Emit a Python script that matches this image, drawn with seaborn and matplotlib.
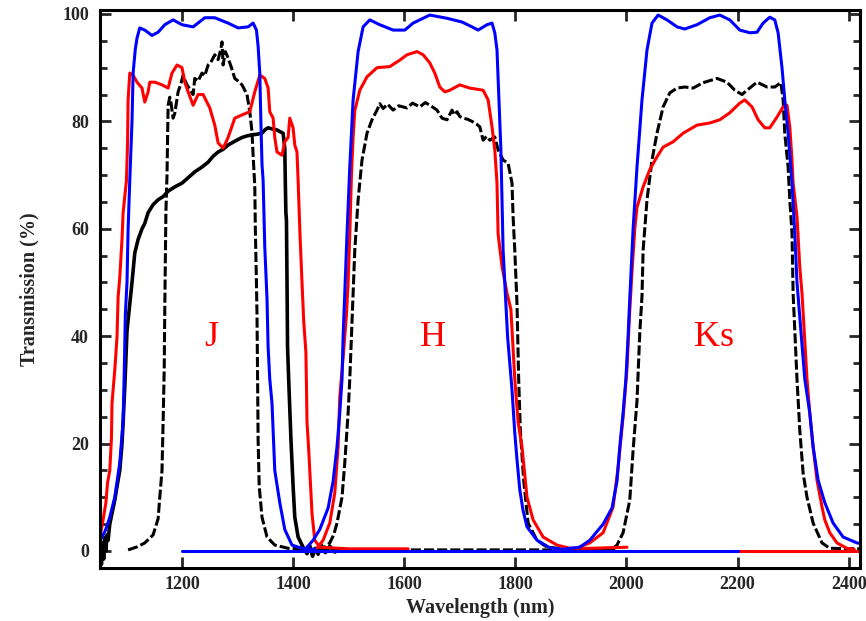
import matplotlib
matplotlib.use("Agg")
import matplotlib.pyplot as plt
import pandas as pd
import seaborn as sns

# Filter transmission curves: (wavelength [nm], transmission [%])
J_BLUE = [(1053, 2.0), (1062, 3.8), (1070, 6.3), (1079, 10.0), (1088, 16.4), (1094, 24.0),
          (1096, 33.0), (1098, 44.0), (1101, 50.0), (1103, 60.0), (1106, 69.0), (1110, 80.0),
          (1112, 89.0), (1116, 93.5), (1119, 95.5), (1124, 97.4), (1133, 97.0), (1146, 96.0),
          (1157, 96.6), (1169, 98.0), (1184, 98.9), (1200, 98.0), (1220, 97.6), (1241, 99.3),
          (1259, 99.3), (1283, 98.3), (1301, 97.4), (1319, 97.6), (1328, 98.3), (1334, 97.0),
          (1337, 94.0), (1340, 89.0), (1342, 80.0), (1344, 72.0), (1346, 69.0), (1349, 56.6),
          (1353, 47.0), (1355, 38.0), (1358, 32.0), (1362, 27.5), (1367, 15.0), (1376, 9.0),
          (1385, 4.0), (1398, 1.1), (1416, 0.5), (1440, 0.3)]

J_RED = [(1053, 3.0), (1058, 5.8), (1063, 9.0), (1066, 12.7), (1070, 15.0), (1073, 21.0),
         (1074, 27.5), (1076, 30.0), (1079, 33.7), (1083, 39.8), (1085, 47.3), (1088, 51.0),
         (1092, 58.0), (1094, 63.0), (1097, 66.0), (1100, 69.0), (1102, 76.0), (1103, 84.0),
         (1106, 89.0), (1112, 88.6), (1119, 87.3), (1128, 86.2), (1133, 83.6), (1139, 85.5),
         (1142, 87.3), (1151, 87.3), (1164, 86.8), (1175, 86.2), (1182, 89.0), (1191, 90.5),
         (1200, 90.0), (1205, 87.3), (1211, 85.5), (1220, 83.0), (1229, 85.0), (1238, 85.0),
         (1250, 82.5), (1259, 79.3), (1265, 76.0), (1274, 75.0), (1283, 77.0), (1295, 80.6),
         (1308, 81.2), (1322, 81.8), (1331, 85.5), (1340, 88.6), (1349, 88.0), (1355, 86.2),
         (1358, 81.8), (1364, 80.6), (1367, 77.0), (1371, 74.3), (1380, 73.7), (1385, 76.2),
         (1391, 77.0), (1394, 80.6), (1400, 78.8), (1403, 75.6), (1407, 74.3), (1409, 69.0),
         (1412, 60.0), (1416, 50.0), (1419, 43.0), (1423, 37.0), (1424, 31.0), (1425, 24.0),
         (1428, 19.0), (1431, 13.0), (1434, 7.0), (1439, 2.0), (1448, 0.7), (1500, 0.4),
         (1607, 0.4)]

J_BLACK_NARROW = [(1103, 0.2), (1120, 0.8), (1133, 1.5), (1148, 3.0), (1157, 6.0), (1160, 10.0),
                  (1164, 15.0), (1166, 24.0), (1168, 34.0), (1169, 45.0), (1170, 54.0),
                  (1171, 63.0), (1173, 70.0), (1175, 83.0), (1178, 84.5), (1180, 83.6),
                  (1184, 80.6), (1187, 81.5), (1193, 85.5), (1198, 87.0), (1202, 88.6),
                  (1206, 87.5), (1209, 86.8), (1214, 86.0), (1220, 85.0), (1223, 88.0),
                  (1229, 87.5), (1236, 89.0), (1241, 88.5), (1247, 90.5), (1252, 91.0),
                  (1259, 92.4), (1265, 91.5), (1270, 93.5), (1272, 94.8), (1274, 90.5),
                  (1278, 93.0), (1283, 91.8), (1289, 90.0), (1295, 88.0), (1301, 87.5),
                  (1308, 86.8), (1317, 85.0), (1322, 81.8), (1326, 78.0), (1328, 73.7),
                  (1331, 68.0), (1332, 60.0), (1334, 50.0), (1335, 44.0), (1336, 33.0),
                  (1337, 20.7), (1339, 12.0), (1344, 6.3), (1353, 2.6), (1367, 1.1),
                  (1391, 0.5), (1450, 0.2), (1980, 0.2)]

J_BLACK_BROAD = [(1053, 0.0), (1055, -2.5), (1057, 1.5), (1059, -1.5), (1061, 2.5), (1063, 0.0),
                 (1065, 3.0), (1067, 2.0), (1070, 5.0), (1074, 7.0), (1079, 9.5), (1083, 12.0),
                 (1088, 15.0), (1092, 20.0), (1094, 24.0), (1097, 30.5), (1101, 41.0),
                 (1106, 46.0), (1110, 50.0), (1115, 55.5), (1121, 58.0), (1128, 60.0),
                 (1133, 61.0), (1139, 63.0), (1148, 64.5), (1157, 65.4), (1166, 66.0),
                 (1175, 67.0), (1187, 67.8), (1200, 68.5), (1211, 69.5), (1223, 70.6),
                 (1236, 71.5), (1247, 72.4), (1256, 73.5), (1265, 74.3), (1274, 74.8),
                 (1283, 75.6), (1295, 76.3), (1308, 77.0), (1317, 77.3), (1326, 77.5),
                 (1335, 77.6), (1344, 77.8), (1350, 78.5), (1355, 78.8), (1362, 78.6),
                 (1371, 78.4), (1378, 78.0), (1382, 77.8), (1385, 75.0), (1386, 68.5),
                 (1387, 63.0), (1388, 61.6), (1389, 50.5), (1390, 38.0), (1392, 32.0),
                 (1396, 21.0), (1400, 12.0), (1403, 6.3), (1409, 2.6), (1418, 0.7),
                 (1425, -0.5), (1430, 1.0), (1435, -1.0), (1440, 0.5), (1445, -0.6),
                 (1450, 1.2), (1458, -0.3), (1466, 0.9), (1475, -0.2), (1485, 0.3)]

H_BLUE = [(1420, 0.2), (1425, 0.7), (1436, 2.0), (1448, 4.0), (1463, 8.0), (1472, 13.0),
          (1479, 19.4), (1484, 25.7), (1488, 32.0), (1490, 40.0), (1493, 48.0), (1497, 59.0),
          (1502, 71.5), (1508, 84.0), (1517, 93.0), (1526, 97.6), (1538, 98.9), (1556, 98.0),
          (1580, 97.0), (1601, 97.0), (1616, 98.3), (1646, 99.8), (1677, 99.2), (1704, 98.5),
          (1722, 97.6), (1733, 97.0), (1749, 98.0), (1758, 98.3), (1763, 96.5), (1767, 93.3),
          (1769, 88.0), (1771, 82.7), (1774, 74.7), (1776, 65.4), (1778, 56.0), (1782, 48.0),
          (1786, 40.0), (1794, 30.0), (1799, 22.0), (1803, 17.0), (1808, 11.4), (1814, 7.5),
          (1821, 4.5), (1839, 2.0), (1862, 0.6), (1886, 0.3)]

H_RED = [(1443, 0.5), (1454, 2.0), (1466, 5.2), (1475, 10.8), (1481, 19.4), (1484, 28.7),
         (1490, 36.0), (1496, 44.0), (1499, 50.0), (1502, 59.0), (1505, 70.0), (1508, 77.0),
         (1511, 82.0), (1520, 85.8), (1533, 88.3), (1551, 90.0), (1574, 90.2), (1592, 91.4),
         (1605, 92.4), (1623, 93.0), (1634, 92.4), (1646, 90.9), (1655, 89.0), (1664, 86.4),
         (1673, 85.5), (1682, 85.8), (1700, 86.8), (1718, 86.2), (1742, 85.8), (1751, 84.0),
         (1758, 79.0), (1763, 74.7), (1767, 68.5), (1769, 59.0), (1776, 53.0), (1785, 48.0),
         (1792, 45.0), (1799, 32.0), (1805, 24.0), (1812, 19.4), (1821, 10.0), (1832, 5.8),
         (1850, 2.6), (1875, 1.1), (1898, 0.5), (1934, 0.5), (2001, 0.7)]

H_BLACK = [(1443, 0.0), (1455, 0.6), (1466, 1.5), (1473, 3.0), (1479, 5.2), (1488, 10.0),
           (1493, 16.4), (1499, 25.7), (1502, 32.0), (1508, 48.0), (1511, 56.0), (1517, 65.4),
           (1524, 72.8), (1533, 77.8), (1542, 80.3), (1551, 82.1), (1556, 83.3), (1562, 82.4),
           (1570, 83.2), (1580, 82.1), (1590, 82.9), (1605, 82.5), (1615, 83.4), (1628, 82.7),
           (1638, 83.5), (1646, 83.0), (1652, 82.6), (1659, 82.1), (1668, 80.6), (1677, 80.3),
           (1686, 82.1), (1690, 81.2), (1695, 81.8), (1700, 80.9), (1706, 80.6), (1714, 80.4),
           (1722, 80.0), (1730, 79.5), (1736, 79.0), (1742, 76.5), (1748, 77.2), (1754, 76.5),
           (1763, 77.1), (1769, 74.7), (1778, 72.8), (1787, 72.2), (1794, 68.5), (1796, 62.2),
           (1799, 56.0), (1803, 46.0), (1806, 32.0), (1809, 22.5), (1815, 13.2), (1823, 5.2),
           (1839, 2.0), (1857, 0.7), (1900, 0.3), (1976, 0.5)]

KS_BLUE = [(1886, 0.3), (1898, 0.5), (1916, 0.7), (1934, 2.0), (1958, 5.0), (1974, 8.0),
           (1983, 13.0), (1988, 19.4), (1994, 25.7), (1999, 32.0), (2003, 40.0), (2006, 47.0),
           (2012, 60.0), (2019, 71.5), (2028, 84.0), (2037, 93.3), (2046, 98.3), (2057, 99.8),
           (2073, 98.9), (2091, 97.6), (2105, 97.2), (2127, 98.0), (2150, 99.3), (2168, 99.8),
           (2186, 98.9), (2204, 97.0), (2222, 96.5), (2235, 96.6), (2246, 98.3), (2258, 99.4),
           (2267, 98.9), (2273, 96.5), (2280, 90.0), (2285, 84.0), (2291, 77.8), (2298, 68.5),
           (2303, 59.2), (2307, 50.0), (2321, 32.0), (2330, 25.7), (2336, 19.4), (2345, 13.2),
           (2357, 9.0), (2372, 5.2), (2390, 2.6), (2415, 1.5), (2420, 1.4)]

KS_RED = [(1916, 0.8), (1934, 1.5), (1958, 3.4), (1976, 8.2), (1985, 15.6), (1994, 25.0),
          (2001, 34.0), (2005, 43.0), (2010, 52.0), (2015, 60.0), (2019, 64.0), (2030, 67.8),
          (2042, 71.0), (2055, 73.4), (2066, 75.2), (2084, 76.2), (2102, 77.8), (2127, 79.3),
          (2150, 79.7), (2168, 80.3), (2186, 81.6), (2204, 83.4), (2213, 84.0), (2226, 82.7),
          (2237, 80.3), (2249, 78.8), (2258, 78.8), (2271, 80.8), (2282, 82.7), (2289, 83.0),
          (2294, 79.0), (2298, 72.8), (2300, 68.5), (2307, 62.2), (2312, 52.9), (2316, 48.0),
          (2325, 32.0), (2330, 25.7), (2336, 19.4), (2343, 13.2), (2352, 8.2), (2357, 5.8),
          (2366, 3.4), (2379, 1.5), (2397, 0.5), (2410, 0.3)]

KS_BLACK = [(1976, 0.5), (1983, 1.1), (1994, 3.4), (2006, 9.5), (2012, 18.8), (2019, 28.0),
            (2024, 40.6), (2028, 47.5), (2030, 56.0), (2037, 65.4), (2046, 72.8), (2055, 77.8),
            (2066, 82.7), (2078, 85.3), (2091, 86.2), (2105, 86.4), (2120, 86.2), (2138, 87.2),
            (2163, 88.0), (2181, 87.3), (2195, 85.8), (2208, 85.0), (2217, 85.8), (2235, 87.3),
            (2253, 86.4), (2267, 86.4), (2278, 87.2), (2282, 84.0), (2285, 77.8), (2291, 71.5),
            (2294, 65.4), (2298, 59.2), (2300, 48.0), (2307, 32.0), (2312, 22.5), (2318, 14.5),
            (2325, 10.0), (2336, 5.2), (2352, 1.5), (2366, 0.5), (2420, 0.4)]

# zero-transmission segments
BASE_BLUE = [(1200, 0.0), (2200, 0.0)]
BASE_RED = [(2200, 0.0), (2420, 0.0)]

BAND_LABELS = ["J", "H", "Ks"]
BAND_LABEL_X = [1252, 1652, 2158]
BAND_LABEL_Y = 39.7

X_TICKS = [1200, 1400, 1600, 1800, 2000, 2200, 2400]
Y_TICKS = [0, 20, 40, 60, 80, 100]


def frame(points):
    return pd.DataFrame(points, columns=["wavelength", "transmission"])


sns.set_style("ticks")
plt.rcParams["font.family"] = ["Liberation Serif", "DejaVu Serif"]

fig = plt.figure(figsize=(8.66, 6.21), dpi=100)
ax = fig.add_axes([100 / 866, 1 - 568 / 621, 760 / 866, 558 / 621])

LW = 2.2
DASH = (0, (3.3, 1.0))


def draw(points, color, ls="-", lw=LW):
    sns.lineplot(data=frame(points), x="wavelength", y="transmission", ax=ax,
                 color=color, linestyle=ls, linewidth=lw, sort=False,
                 estimator=None, legend=False)


# black curves
draw(J_BLACK_BROAD, "black", "-", 2.6)
for curve in (J_BLACK_NARROW, H_BLACK, KS_BLACK):
    draw(curve, "black", DASH)
# red curves
for curve in (J_RED, H_RED, KS_RED, BASE_RED):
    draw(curve, "#ff0000")
# blue curves
for curve in (J_BLUE, H_BLUE, KS_BLUE, BASE_BLUE):
    draw(curve, "#0000ff")

for lab, lx in zip(BAND_LABELS, BAND_LABEL_X):
    ax.text(lx, BAND_LABEL_Y, lab, color="#ff0000", fontsize=26,
            ha="center", va="center", family="Liberation Serif")

ax.set_xlim(1052.4, 2420.4)
ax.set_ylim(-3.17, 100.74)
ax.set_xticks(X_TICKS)
ax.set_yticks(Y_TICKS)
ax.set_yticks(range(0, 101, 5), minor=True)
ax.set_xticklabels([str(t) for t in X_TICKS], fontsize=13, fontweight="bold")
ax.set_yticklabels([str(t) for t in Y_TICKS], fontsize=13, fontweight="bold")
ax.tick_params(axis="both", which="major", direction="in", length=8, width=2,
               top=True, right=True, pad=6)
ax.tick_params(axis="y", which="minor", direction="in", length=5, width=2,
               left=True, right=True)
ax.tick_params(axis="y", which="major", pad=8)
for side in ax.spines.values():
    side.set_linewidth(2.2)
    side.set_color("black")
    side.set_visible(True)

ax.set_xlabel("Wavelength (nm)", fontsize=14.5, fontweight="bold", labelpad=3)
ax.set_ylabel("Transmission (%)", fontsize=14.5, fontweight="bold", labelpad=16)

fig.savefig("out.png", dpi=100)
